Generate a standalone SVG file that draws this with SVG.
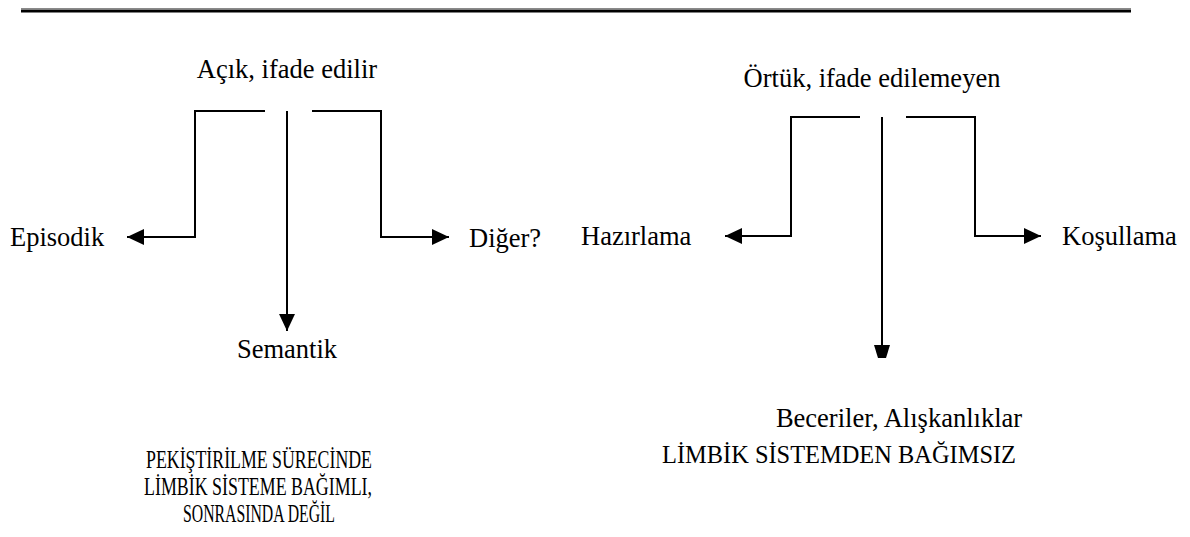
<svg xmlns="http://www.w3.org/2000/svg" width="1190" height="537" viewBox="0 0 1190 537">
<style>
  text { font-family: "Liberation Serif", "Times New Roman", serif; fill: #000; }
  .lbl { font-size: 26.5px; }
  .note { font-size: 25px; }
  .note-c { font-size: 25px; }
  .wire { fill: none; stroke: #000; stroke-width: 2; }
</style>
<defs>
  <marker id="arr" markerUnits="userSpaceOnUse" markerWidth="17" markerHeight="17" viewBox="0 0 16 15" refX="16" refY="7.5" orient="auto">
    <path d="M0,0 L16,7.5 L0,15 Z" fill="#000"/>
  </marker>
</defs>
<rect width="1190" height="537" fill="#fff"/>
<g id="rule">
  <line x1="21" y1="8.5" x2="1131" y2="8.5" stroke="#8a8a8a" stroke-width="1.2"/>
  <line x1="21" y1="11" x2="1131" y2="11" stroke="#000" stroke-width="3"/>
</g>
<g id="connectors">
  <path class="wire" d="M265,111 H195 V237 H127" marker-end="url(#arr)"/>
  <path class="wire" d="M287,111 V331" marker-end="url(#arr)"/>
  <path class="wire" d="M312,111 H381 V237 H449" marker-end="url(#arr)"/>
  <path class="wire" d="M860,117 H791 V236 H725" marker-end="url(#arr)"/>
  <path class="wire" d="M882,117 V347"/>
  <polygon points="874,345 890,345 886,358 878,358" fill="#000"/>
  <path class="wire" d="M906,117 H975 V236 H1041" marker-end="url(#arr)"/>
</g>
<g id="acik"><text class="lbl" x="287" y="78" text-anchor="middle">Açık, ifade edilir</text></g>
<g id="episodik"><text class="lbl" x="10" y="246">Episodik</text></g>
<g id="diger"><text class="lbl" x="469" y="247">Diğer?</text></g>
<g id="semantik"><text class="lbl" x="287" y="358" text-anchor="middle">Semantik</text></g>
<g id="ortuk"><text class="lbl" x="872" y="87" text-anchor="middle">Örtük, ifade edilemeyen</text></g>
<g id="hazirlama"><text class="lbl" x="581" y="245">Hazırlama</text></g>
<g id="kosullama"><text class="lbl" x="1062" y="245">Koşullama</text></g>
<g id="beceriler"><text class="lbl" x="899" y="427" text-anchor="middle">Beceriler, Alışkanlıklar</text></g>
<g id="note-left">
  <text class="note-c" x="146" y="468" textLength="226" lengthAdjust="spacingAndGlyphs">PEKİŞTİRİLME SÜRECİNDE</text>
  <text class="note-c" x="144" y="495" textLength="228" lengthAdjust="spacingAndGlyphs">LİMBİK SİSTEME BAĞIMLI,</text>
  <text class="note-c" x="183" y="522" textLength="152" lengthAdjust="spacingAndGlyphs">SONRASINDA DEĞİL</text>
</g>
<g id="note-right">
  <text class="note" x="662" y="463" textLength="354" lengthAdjust="spacingAndGlyphs">LİMBİK SİSTEMDEN BAĞIMSIZ</text>
</g>
</svg>
